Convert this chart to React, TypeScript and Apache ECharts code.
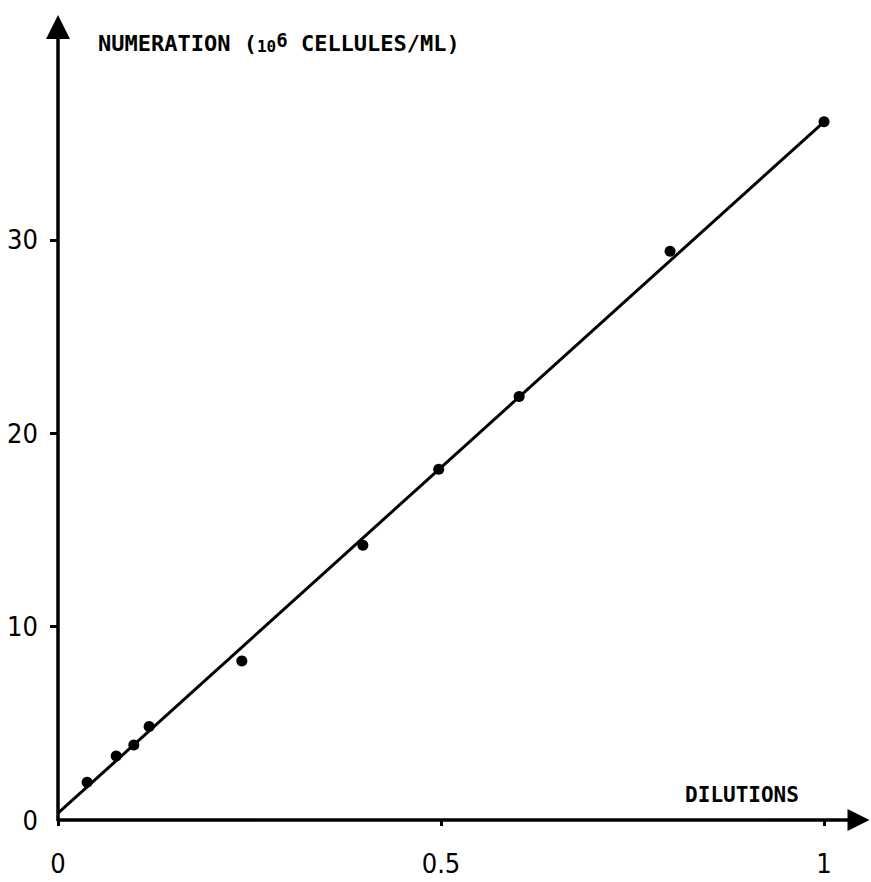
import React, { useEffect, useRef } from "react";
import * as echarts from "echarts";

// Data
const dilutions = [0.038, 0.076, 0.099, 0.119, 0.24, 0.398, 0.497, 0.602, 0.799, 1.0];
const numeration = [1.95, 3.31, 3.88, 4.83, 8.22, 14.2, 18.14, 21.9, 29.4, 36.1];
const fitLineX = [0, 1];
const fitLineY = [0.35, 36.1];
const xTickValues = [0, 0.5, 1];
const xTickLabels = ["0", "0.5", "1"];
const yTickValues = [0, 10, 20, 30];
const yTickMarks = [10, 20, 30];
const xMax = 1.045;
const yMax = 41;

export default function App() {
  const ref = useRef<HTMLDivElement>(null);
  useEffect(() => {
    if (!ref.current) return;
    const chart = echarts.init(ref.current, undefined, { renderer: "svg" });
    const labelFont = "'Liberation Sans Narrow', 'DejaVu Sans Condensed', sans-serif";
    const monoFont = "'DejaVu Sans Mono', 'Liberation Mono', monospace";
    chart.setOption({
      animation: false,
      backgroundColor: "#ffffff",
      grid: { left: 58, top: 27, right: 12.5, bottom: 62, containLabel: false },
      xAxis: {
        type: "value",
        min: 0,
        max: xMax,
        splitLine: { show: false },
        axisLine: {
          show: true,
          onZero: false,
          symbol: ["none", "triangle"],
          symbolSize: [22, 22],
          lineStyle: { color: "#000", width: 3.5 },
        },
        axisTick: {
          show: true,
          customValues: xTickValues,
          length: 6,
          inside: false,
          lineStyle: { color: "#000", width: 3 },
        },
        axisLabel: {
          customValues: xTickValues,
          margin: 30,
          color: "#000",
          fontSize: 27,
          fontFamily: labelFont,
          formatter: (v: number) => {
            const i = xTickValues.indexOf(v);
            return i >= 0 ? xTickLabels[i] : "";
          },
        },
      },
      yAxis: {
        type: "value",
        min: 0,
        max: yMax,
        splitLine: { show: false },
        axisLine: {
          show: true,
          onZero: false,
          symbol: ["none", "triangle"],
          symbolSize: [24, 24],
          lineStyle: { color: "#000", width: 3.5 },
        },
        axisTick: {
          show: true,
          customValues: yTickMarks,
          length: 8,
          inside: false,
          lineStyle: { color: "#000", width: 3 },
        },
        axisLabel: {
          customValues: yTickValues,
          margin: 20,
          color: "#000",
          fontSize: 27,
          fontFamily: labelFont,
        },
      },
      graphic: [
        {
          type: "text",
          left: 98,
          top: 30,
          style: {
            text: "{a|NUMERATION (}{s|10}{p|6}{a| CELLULES/ML)}",
            fill: "#000",
            rich: {
              a: { fontFamily: monoFont, fontSize: 22, fontWeight: "bold", lineHeight: 24, verticalAlign: "bottom", fill: "#000" },
              s: { fontFamily: monoFont, fontSize: 16, fontWeight: "bold", lineHeight: 24, verticalAlign: "bottom", fill: "#000" },
              p: { fontFamily: monoFont, fontSize: 19, fontWeight: "bold", lineHeight: 24, verticalAlign: "top", fill: "#000" },
            },
          },
        },
        {
          type: "text",
          x: 742,
          y: 795,
          style: {
            text: "DILUTIONS",
            fill: "#000",
            fontFamily: monoFont,
            fontSize: 21,
            fontWeight: "bold",
            align: "center",
            verticalAlign: "middle",
          },
        },
      ],
      series: [
        {
          type: "line",
          data: fitLineX.map((x, i) => [x, fitLineY[i]]),
          showSymbol: false,
          symbol: "none",
          lineStyle: { color: "#000", width: 3 },
          z: 2,
        },
        {
          type: "scatter",
          data: dilutions.map((x, i) => [x, numeration[i]]),
          symbol: "circle",
          symbolSize: 11,
          itemStyle: { color: "#000", opacity: 1 },
          z: 3,
        },
      ],
    });
    return () => chart.dispose();
  }, []);
  return (
    <div
      ref={ref}
      style={{ position: "fixed", left: 0, top: 0, width: 871, height: 882, background: "#fff" }}
    />
  );
}
